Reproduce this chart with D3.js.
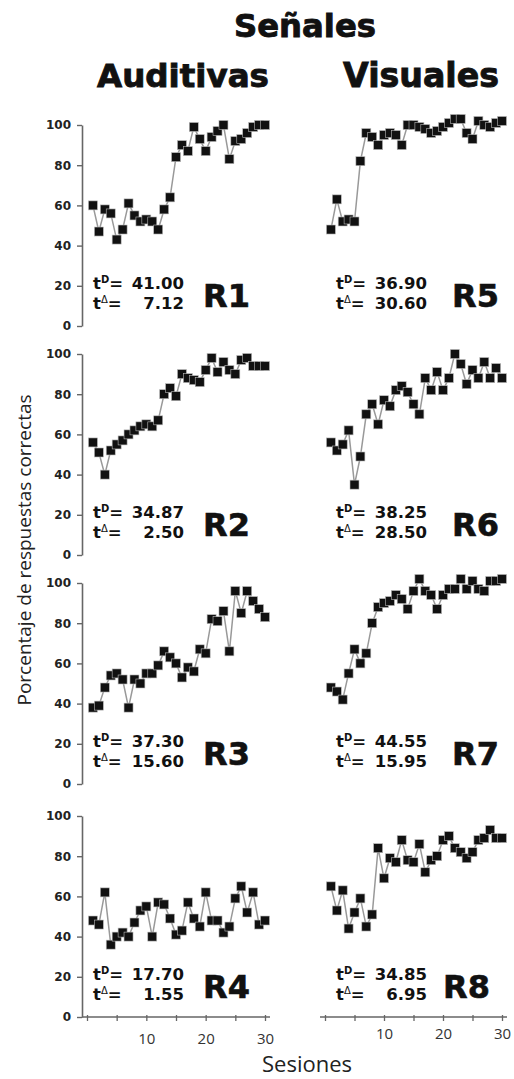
<!DOCTYPE html>
<html><head><meta charset="utf-8">
<script src="https://cdn.jsdelivr.net/npm/d3@7"></script>
<style>body{margin:0;background:#fff}</style>
</head><body><svg id="c" width="514" height="1079"></svg>
<script>
// ---------- data ----------
const sessions = d3.range(1, 31);
const R1 = [60,47,58,56,43,48,61,55,52,53,52,48,58,64,84,90,87,99,93,87,94,97,100,83,92,93,96,99,100,100];
const R2 = [56,51,40,52,55,57,60,62,64,65,64,67,80,83,79,90,88,87,86,92,98,91,96,92,90,97,98,94,94,94];
const R3 = [38,39,48,54,55,52,38,52,50,55,55,59,66,63,60,53,58,56,67,65,82,81,86,66,96,85,96,91,87,83];
const R4 = [48,46,62,36,40,42,40,47,53,55,40,57,56,49,41,43,57,49,45,62,48,48,42,45,59,65,52,62,46,48];
const R5 = [48,63,52,53,52,82,96,94,90,95,96,95,90,100,100,99,98,96,97,99,101,103,103,96,93,102,100,99,101,102];
const R6 = [56,52,55,62,35,49,70,75,65,77,74,82,84,81,75,70,88,82,91,82,88,100,95,85,92,88,96,88,93,88];
const R7 = [48,46,42,55,67,60,65,80,88,90,91,94,92,87,96,102,96,94,87,94,97,97,102,97,101,97,96,101,101,102];
const R8 = [65,53,63,44,52,59,45,51,84,69,79,77,88,78,77,86,72,78,80,88,90,84,82,79,82,88,89,93,89,89];
const panelNames = ["R1","R2","R3","R4","R5","R6","R7","R8"];
const tD     = ["41.00","34.87","37.30","17.70","36.90","38.25","44.55","34.85"];
const tDelta = ["7.12","2.50","15.60","1.55","30.60","28.50","15.95","6.95"];
const yTicks = [0,20,40,60,80,100];
const xTicks = [0,5,10,15,20,25,30];
const xTickLabels = [10,20,30];
const header = "Señales";
const columnTitles = ["Auditivas","Visuales"];
const yTitle = "Porcentaje de respuestas correctas";
const xTitle = "Sesiones";

const series = [R1,R2,R3,R4,R5,R6,R7,R8];

// ---------- layout ----------
const svg = d3.select("#c");
const rowBase = [326, 555, 784, 1017];
const colRange = [[87, 265], [325, 502]];
const boldFont = "'DejaVu Sans', sans-serif";
const plainFont = "'Open Sans', sans-serif";

function fitText(sel, w) {
  const n = sel.node();
  const len = n.getComputedTextLength();
  const fs = parseFloat(sel.attr("font-size"));
  sel.attr("font-size", (fs * w / len).toFixed(2));
}

// headers
const h = svg.append("text").attr("x", 305).attr("y", 37).attr("text-anchor","middle")
  .attr("font-family", boldFont).attr("font-weight","bold").attr("font-size",32)
  .attr("fill","#111").attr("stroke","#111").attr("stroke-width",0.9).text(header);
fitText(h, 142);
const colCenters = [183, 421], colWidths = [172, 156];
columnTitles.forEach((t,i) => {
  const s = svg.append("text").attr("x", colCenters[i]).attr("y", 87).attr("text-anchor","middle")
    .attr("font-family", boldFont).attr("font-weight","bold").attr("font-size",32)
    .attr("fill","#111").attr("stroke","#111").attr("stroke-width",0.9).text(t);
  fitText(s, colWidths[i]);
});

// panels
series.forEach((vals, i) => {
  const col = i < 4 ? 0 : 1, row = i % 4;
  const x = d3.scaleLinear().domain([0, 30]).range(colRange[col]);
  const y = d3.scaleLinear().domain([0, 100]).range([rowBase[row], rowBase[row] - 201]);
  const g = svg.append("g");

  if (col === 0) {
    const ax = g.append("g").attr("transform", `translate(${x.range()[0]-5},0)`)
      .call(d3.axisLeft(y).tickValues(yTicks).tickSize(5).tickPadding(6).tickSizeOuter(0));
    ax.select(".domain").attr("stroke","#666").attr("stroke-width",1.6);
    ax.selectAll(".tick line").attr("stroke","#666").attr("stroke-width",1.4);
    ax.selectAll("text").attr("font-family", boldFont).attr("font-weight","bold")
      .attr("font-size",12).attr("fill","#222");
  }
  if (row === 3) {
    const ax = g.append("g").attr("transform", `translate(0,${y(0)})`)
      .call(d3.axisBottom(x).tickValues(xTicks).tickSizeInner(4).tickSizeOuter(0)
        .tickPadding(col === 0 ? 12 : 7)
        .tickFormat(d => xTickLabels.includes(d) ? d : ""));
    ax.select(".domain").remove();
    ax.append("line").attr("x1", x.range()[0] - 5).attr("x2", x.range()[1] + 5)
      .attr("stroke","#666").attr("stroke-width",1.6);
    ax.selectAll(".tick line").attr("stroke","#666").attr("stroke-width",1.3).attr("y1",-2);
    ax.selectAll("text").attr("font-family", plainFont).attr("font-size",15).attr("fill","#333");
  }

  const line = d3.line().x((d,j) => x(sessions[j])).y(d => y(d));
  g.append("path").datum(vals).attr("d", line).attr("fill","none")
    .attr("stroke","#999").attr("stroke-width",1.5);
  g.selectAll("rect.pt").data(vals).join("rect").attr("class","pt")
    .attr("x", (d,j) => x(sessions[j]) - 4.5).attr("y", d => y(d) - 4.5)
    .attr("width", 9).attr("height", 9)
    .attr("fill","#111").attr("stroke","#bbb").attr("stroke-width",0.6);

  // t statistics
  const tx = col === 0 ? 93 : 336;
  const lines = [["D", tD[i]], ["Δ", tDelta[i]]];
  lines.forEach((ln, k) => {
    const by = y(0) - (k === 0 ? 37 : 17);
    const t = g.append("text").attr("x", tx).attr("y", by)
      .attr("font-family", boldFont).attr("font-weight","bold").attr("font-size",16.5).attr("fill","#111");
    t.append("tspan").text("t");
    t.append("tspan").attr("dy", -6).attr("font-size", 10).attr("font-weight", k === 0 ? "bold" : "normal").text(ln[0]);
    t.append("tspan").attr("dy", 6).text("=");
    g.append("text").attr("x", tx + 91).attr("y", by).attr("text-anchor","end")
      .attr("font-family", boldFont).attr("font-weight","bold").attr("font-size",16.5).attr("fill","#111")
      .text(ln[1]);
  });
  const rx = col === 0 ? 203 : (row === 3 ? 443 : 452);
  g.append("text").attr("x", rx).attr("y", y(0) - 19)
    .attr("font-family", boldFont).attr("font-weight","bold").attr("font-size",32)
    .attr("fill","#111").attr("stroke","#111").attr("stroke-width",0.6).text(panelNames[i]);
});

// axis titles
svg.append("text").attr("transform","translate(31,550) rotate(-90)").attr("text-anchor","middle")
  .attr("font-family", plainFont).attr("font-size",19).attr("fill","#222").text(yTitle);
svg.append("text").attr("x", 307).attr("y", 1072).attr("text-anchor","middle")
  .attr("font-family", plainFont).attr("font-size",22).attr("fill","#222").text(xTitle);
</script></body></html>
